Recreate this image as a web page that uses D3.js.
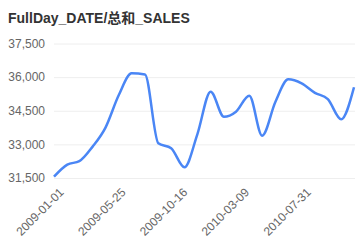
<!DOCTYPE html>
<html>
<head>
<meta charset="utf-8">
<script src="https://cdn.jsdelivr.net/npm/d3@7"></script>
<style>
  body { margin: 0; background: #fff; }
  svg { display: block; font-family: 'Liberation Sans', Arial, 'Noto Sans CJK SC', sans-serif; }
</style>
</head>
<body>
<svg></svg>
<script>
const title = 'FullDay_DATE/总和_SALES';

// monthly points
const dates = [
  '2009-01-01', '2009-02-01', '2009-03-01', '2009-04-01', '2009-05-01', '2009-06-01',
  '2009-07-01', '2009-08-01', '2009-09-01', '2009-10-01', '2009-11-01', '2009-12-01',
  '2010-01-01', '2010-02-01', '2010-03-01', '2010-04-01', '2010-05-01', '2010-06-01',
  '2010-07-01', '2010-08-01', '2010-09-01', '2010-10-01', '2010-11-01', '2010-12-01'
];
const sales = [
  31560, 32100, 32250, 32900, 33750, 35200,
  36170, 36120, 33050, 32830, 31980, 33450,
  35350, 34230, 34460, 35170, 33390, 34900,
  35900, 35720, 35300, 35020, 34120, 35550
];
const xTicks = ['2009-01-01', '2009-05-25', '2009-10-16', '2010-03-09', '2010-07-31'];
const yTicks = [31500, 33000, 34500, 36000, 37500];

const width = 360;
const height = 248;
const margin = { top: 43.5, right: 5, bottom: 70, left: 54 };

const parse = d3.timeParse('%Y-%m-%d');
const fmt = d3.timeFormat('%Y-%m-%d');
const data = dates.map((d, i) => ({ date: parse(d), value: sales[i] }));

const svg = d3.select('svg')
  .attr('width', width)
  .attr('height', height);

const x = d3.scaleTime()
  .domain(d3.extent(data, d => d.date))
  .range([margin.left, width - 6]);

const y = d3.scaleLinear()
  .domain([31500, 37500])
  .range([height - margin.bottom, margin.top]);

svg.append('text')
  .attr('x', 8)
  .attr('y', 23)
  .attr('fill', '#333')
  .attr('font-size', 14)
  .attr('font-weight', 'bold')
  .text(title);

// grid + y labels
const yAxis = svg.append('g')
  .attr('transform', 'translate(' + margin.left + ',0)')
  .call(d3.axisLeft(y).tickValues(yTicks).tickSize(-(width - margin.left - 5)).tickPadding(9).tickFormat(d3.format(',')));
yAxis.select('.domain').remove();
yAxis.selectAll('line').attr('stroke', '#eeeeee');
yAxis.selectAll('text').attr('fill', '#666').attr('font-size', 12);

// x labels
const xAxis = svg.append('g')
  .attr('transform', 'translate(0,' + (height - margin.bottom) + ')')
  .call(d3.axisBottom(x).tickValues(xTicks.map(parse)).tickSize(0).tickFormat(fmt));
xAxis.select('.domain').remove();
xAxis.selectAll('text')
  .attr('fill', '#666')
  .attr('font-size', 12)
  .attr('text-anchor', 'end')
  .attr('dy', '0.35em')
  .attr('transform', 'translate(5,10) rotate(-45)');

const line = d3.line()
  .x(d => x(d.date))
  .y(d => y(d.value))
  .curve(d3.curveMonotoneX);

svg.append('path')
  .datum(data)
  .attr('fill', 'none')
  .attr('stroke', '#4a86f5')
  .attr('stroke-width', 2.5)
  .attr('stroke-linejoin', 'round')
  .attr('d', line);
</script>
</body>
</html>
